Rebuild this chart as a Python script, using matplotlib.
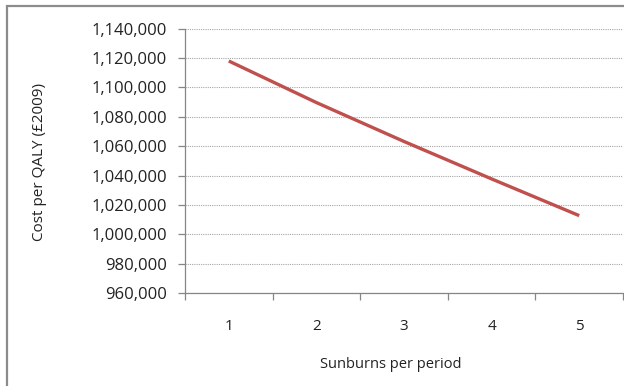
import matplotlib
matplotlib.use("Agg")
import matplotlib.pyplot as plt
from matplotlib.patches import Rectangle
from matplotlib.ticker import FuncFormatter, FixedLocator

# Cost per QALY by number of sunburns per period
sunburns = [1, 2, 3, 4, 5]
cost_per_qaly = [1118000, 1089700, 1063200, 1037700, 1012700]
y_ticks = list(range(960000, 1140001, 20000))

LINE = "#C0504D"
AXIS = "#868686"
GRID = "#A6A6A6"
TEXT = "#222222"

plt.rcParams["font.family"] = ["Open Sans", "DejaVu Sans"]

fig = plt.figure(figsize=(6.24, 3.86), dpi=100)
ax = fig.add_axes([185 / 624, 1 - 293 / 386, 438 / 624, (293 - 28.7) / 386])

ax.plot(sunburns, cost_per_qaly, color=LINE, lw=2.4, solid_capstyle="butt")

ax.set_xlim(0.5, 5.5)
ax.set_ylim(960000, 1140000)
ax.set_yticks(y_ticks)
ax.yaxis.set_major_formatter(FuncFormatter(lambda v, _: f"{v:,.0f}"))
ax.grid(axis="y", color=GRID, lw=0.8, ls=(0, (1, 1)))
ax.set_axisbelow(True)

ax.set_xticks(sunburns)
ax.xaxis.set_minor_locator(FixedLocator([0.5, 1.5, 2.5, 3.5, 4.5, 5.5]))
ax.tick_params(axis="x", which="major", length=0, pad=19, labelsize=11,
               labelcolor=TEXT)
ax.tick_params(axis="x", which="minor", length=5, color=AXIS, width=0.9)
ax.tick_params(axis="y", length=5, color=AXIS, width=0.9, pad=8,
               labelsize=12, labelcolor=TEXT)

for side in ("top", "right"):
    ax.spines[side].set_visible(False)
for side in ("left", "bottom"):
    ax.spines[side].set_color(AXIS)
    ax.spines[side].set_linewidth(0.9)

ax.set_xlabel("Sunburns per period", fontsize=10.5, color=TEXT)
ax.set_ylabel("Cost per QALY (\u00a32009)", fontsize=11, color=TEXT)
ax.xaxis.set_label_coords((391 - 185) / 438, -(357 - 293) / (293 - 28.7))
ax.yaxis.set_label_coords(-(185 - 47) / 438, (293 - 162) / (293 - 28.7))

# chart frame (open on the right and bottom)
fig.patches.append(Rectangle((6.5 / 624, -0.1), 1.2, 1.1 - 5.5 / 386,
                             transform=fig.transFigure, fill=False,
                             edgecolor="#8C8C8C", lw=1.6))

fig.savefig("out.png", dpi=100, facecolor="white")
